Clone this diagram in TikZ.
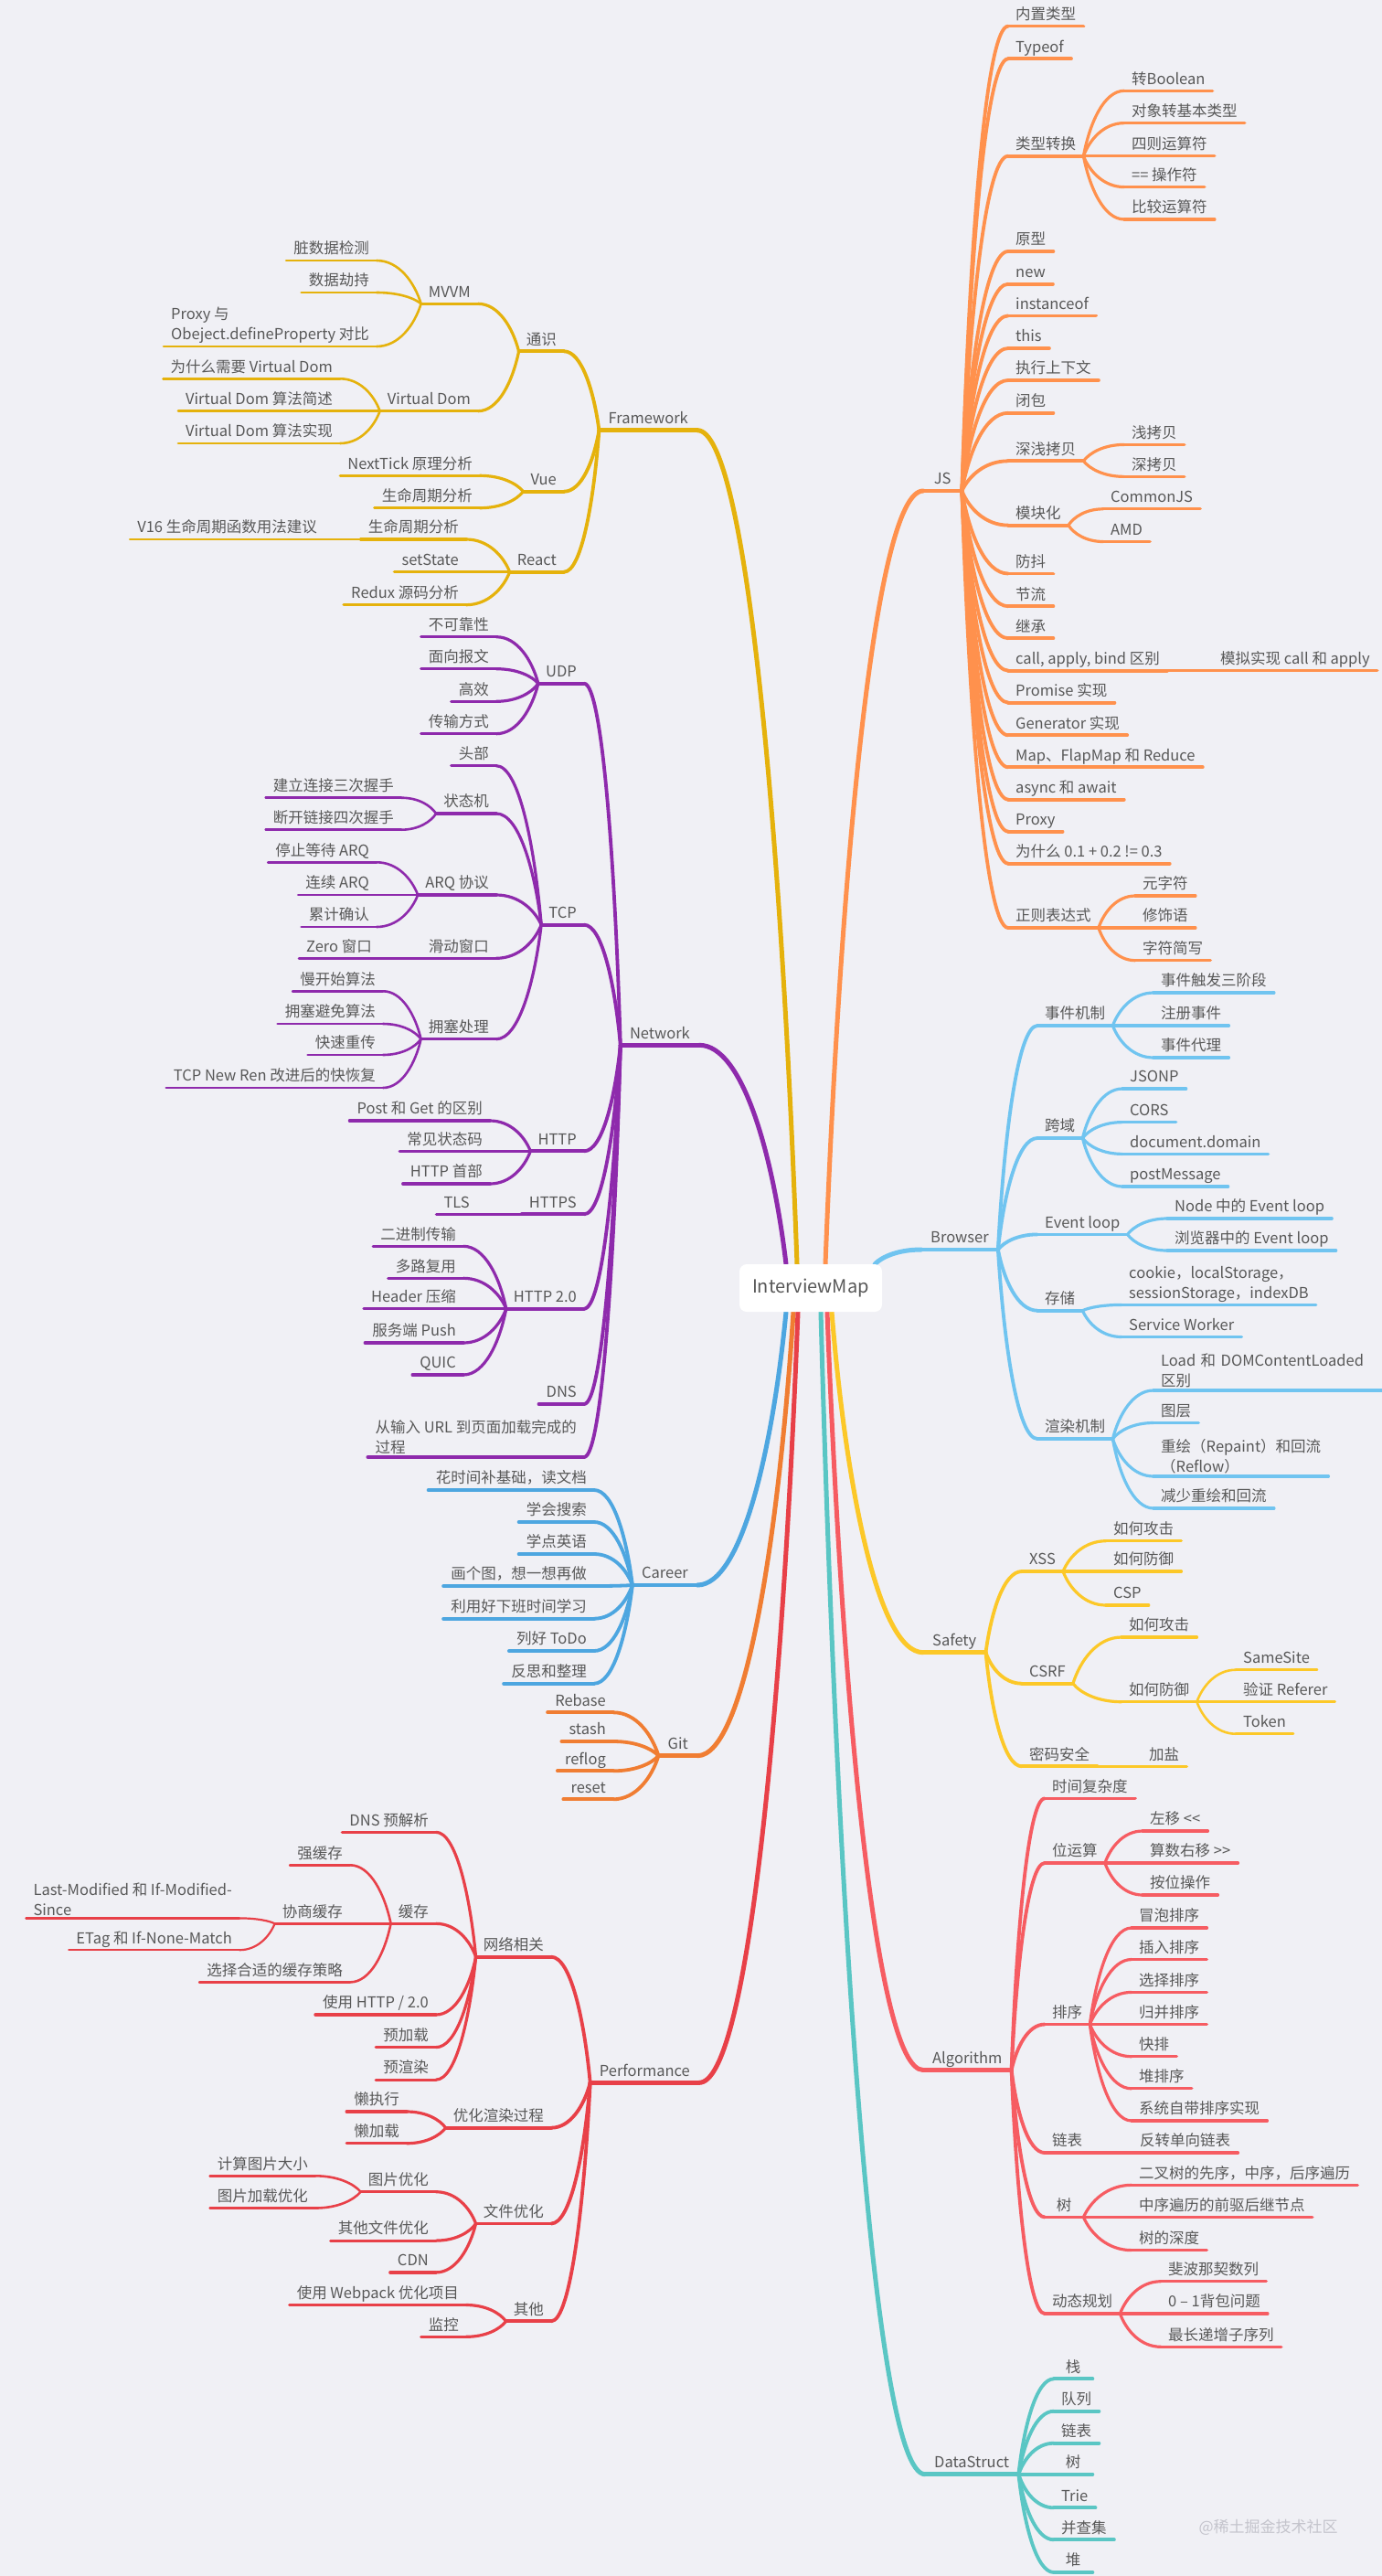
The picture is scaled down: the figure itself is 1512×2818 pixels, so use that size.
\documentclass[tikz,border=0pt]{standalone}
\usepackage{fontspec}
\usepackage{tikz}
\usetikzlibrary{
  calc,
  backgrounds
}
\newfontfamily\cjk{Noto Sans CJK SC}

\definecolor{bgcol}{RGB}{240,240,245}
\definecolor{txtcol}{RGB}{88,88,88}
\definecolor{markcol}{RGB}{196,196,204}
\definecolor{fwcol}{RGB}{229,178,12}
\definecolor{jscol}{RGB}{255,145,77}
\definecolor{netcol}{RGB}{142,42,172}
\definecolor{brcol}{RGB}{112,196,240}
\definecolor{carcol}{RGB}{77,166,224}
\definecolor{gitcol}{RGB}{240,125,50}
\definecolor{safecol}{RGB}{252,200,40}
\definecolor{perfcol}{RGB}{232,64,72}
\definecolor{algcol}{RGB}{246,92,98}
\definecolor{dscol}{RGB}{90,198,196}

\tikzset{
  mapnode/.style={
    font=\cjk\fontsize{16.5}{22}\selectfont, text=txtcol,
    inner xsep=8pt, inner ysep=3pt, minimum width=42pt,
    text height=12.5pt, text depth=4pt
  },
  uline/.style={
    mapnode,
    append after command={(\tikzlastnode.south west)
      edge[line width=#1, line cap=round] (\tikzlastnode.south east)}
  },
  topic/.style={uline=4.5pt, inner xsep=10pt},
  subtopic/.style={uline=3.8pt},
  leaf/.style={uline=3.2pt},
  subleaf/.style={uline=2.6pt},
  twig/.style={uline=2.2pt},
  toleft/.style={anchor=south east},
  toright/.style={anchor=south west},
  twoline/.style={align=left, text depth=},
  rootbox/.style={
    rectangle, rounded corners=8pt, fill=white, text=txtcol,
    font=\cjk\fontsize{20}{24}\selectfont,
    minimum width=156pt, minimum height=52pt
  },
  link/.style={line cap=round},
  w1/.style={line width=5pt},
  w2/.style={line width=3.8pt},
  w3/.style={line width=3.2pt},
  w4/.style={line width=2.6pt},
  w5/.style={line width=2.2pt}
}

% curved connector: leaves the parent steeply, lands flat on the child
\newcommand{\branch}[3][]{%
  \draw[link,#1] let \p1=(#2), \p2=(#3) in
    (\p1) .. controls ({\x1+0.15*(\x2-\x1)},{\y1+0.5*(\y2-\y1)})
             and ({\x1+0.5*(\x2-\x1)},\y2) .. (\p2);}
\newcommand{\branchR}[3][]{\branch[#1]{#2.south east}{#3.south west}}
\newcommand{\branchL}[3][]{\branch[#1]{#2.south west}{#3.south east}}

\begin{document}
\begin{tikzpicture}[x=1pt, y=-1pt]
\useasboundingbox (0,0) rectangle (1512,2818);

% ── Centre ───────────────────────────────────────────────────────────────────
\node[rootbox] (root) at (887,1409) {InterviewMap};
\coordinate (outNet)  at ([xshift=-27pt]root.north);
\coordinate (outFw)   at ([xshift=-15pt]root.north);
\coordinate (outJs)   at ([xshift=16pt]root.north);
\coordinate (outBro)  at ([xshift=-8pt]root.north east);
\coordinate (outCar)  at ([xshift=-27pt]root.south);
\coordinate (outGit)  at ([xshift=-19pt]root.south);
\coordinate (outPerf) at ([xshift=-14pt]root.south);
\coordinate (outDs)   at ([xshift=11pt]root.south);
\coordinate (outAlg)  at ([xshift=18pt]root.south);
\coordinate (outSafe) at ([xshift=23pt]root.south);

% ── Framework ────────────────────────────────────────────────────────────────
\begin{scope}[color=fwcol]
\node[topic, toleft] (fw) at (763,470.7) {Framework};
\node[subtopic, toleft] (fwA) at (617,384.3) {通识};
\node[subtopic, toleft] (fwB) at (617,537.7) {Vue};
\node[subtopic, toleft] (fwC) at (617,625.7) {React};
\node[leaf, toleft] (mvvm) at (523,332.3) {MVVM};
\node[leaf, toleft] (vdom) at (523,449.7) {Virtual Dom};
\node[subleaf, toleft] (mvvm1) at (412,285) {脏数据检测};
\node[subleaf, toleft] (mvvm2) at (412,320) {数据劫持};
\node[subleaf, toleft, twoline] (mvvm3) at (412,379) {Proxy 与\\Obeject.defineProperty 对比};
\node[subleaf, toleft] (vdom1) at (372,414.3) {为什么需要 Virtual Dom};
\node[subleaf, toleft] (vdom2) at (372,449.7) {Virtual Dom 算法简述};
\node[subleaf, toleft] (vdom3) at (372,485) {Virtual Dom 算法实现};
\node[leaf, toleft] (vue1) at (525,520.3) {NextTick 原理分析};
\node[leaf, toleft] (vue2) at (525,555.7) {生命周期分析};
\node[leaf, toleft] (rc1) at (510,590) {生命周期分析};
\node[subleaf, toleft] (rc1a) at (355,590) {V16 生命周期函数用法建议};
\node[leaf, toleft] (rc2) at (510,625.7) {setState};
\node[leaf, toleft] (rc3) at (510,661.7) {Redux 源码分析};

\branchL[w2]{fw}{fwA}
\branchL[w2]{fw}{fwB}
\branchL[w2]{fw}{fwC}
\branchL[w3]{fwA}{mvvm}
\branchL[w3]{fwA}{vdom}
\branchL[w4]{mvvm}{mvvm1}
\branchL[w4]{mvvm}{mvvm2}
\branchL[w4]{mvvm}{mvvm3}
\branchL[w4]{vdom}{vdom1}
\branchL[w4]{vdom}{vdom2}
\branchL[w4]{vdom}{vdom3}
\branchL[w3]{fwB}{vue1}
\branchL[w3]{fwB}{vue2}
\branchL[w3]{fwC}{rc1}
\branchL[w4]{rc1}{rc1a}
\branchL[w3]{fwC}{rc2}
\branchL[w3]{fwC}{rc3}
\end{scope}

% ── Network ──────────────────────────────────────────────────────────────────
\begin{scope}[color=netcol]
\node[topic, toleft] (net) at (765,1143.3) {Network};
\node[subtopic, toleft] (udp) at (639,747.7) {UDP};
\node[subtopic, toleft] (tcp) at (639,1011.7) {TCP};
\node[subtopic, toleft] (http) at (639,1259.3) {HTTP};
\node[subtopic, toleft] (https) at (639,1328.3) {HTTPS};
\node[subtopic, toleft] (h2) at (639,1431.7) {HTTP 2.0};
\node[subtopic, toleft] (dns) at (639,1536) {DNS};
\node[subtopic, toleft, twoline] (url) at (639,1594) {从输入 URL 到页面加载完成的\\过程};

\node[leaf, toleft] (udp1) at (543,696.7) {不可靠性};
\node[leaf, toleft] (udp2) at (543,731.7) {面向报文};
\node[leaf, toleft] (udp3) at (543,767.3) {高效};
\node[leaf, toleft] (udp4) at (543,802.7) {传输方式};

\node[leaf, toleft] (tcp1) at (543,837.7) {头部};
\node[leaf, toleft] (tcp2) at (543,890) {状态机};
\node[leaf, toleft] (tcp3) at (543,979) {ARQ 协议};
\node[leaf, toleft] (tcp4) at (543,1048.3) {滑动窗口};
\node[leaf, toleft] (tcp5) at (543,1136.7) {拥塞处理};
\node[subleaf, toleft] (tcp2a) at (439,872.7) {建立连接三次握手};
\node[subleaf, toleft] (tcp2b) at (439,907.7) {断开链接四次握手};
\node[subleaf, toleft] (tcp3a) at (412,943.3) {停止等待 ARQ};
\node[subleaf, toleft] (tcp3b) at (412,979) {连续 ARQ};
\node[subleaf, toleft] (tcp3c) at (412,1014) {累计确认};
\node[subleaf, toleft] (tcp4a) at (415,1048.3) {Zero 窗口};
\node[subleaf, toleft] (tcp5a) at (419,1084.3) {慢开始算法};
\node[subleaf, toleft] (tcp5b) at (419,1120) {拥塞避免算法};
\node[subleaf, toleft] (tcp5c) at (419,1154) {快速重传};
\node[subleaf, toleft] (tcp5d) at (419,1190) {TCP New Ren 改进后的快恢复};

\node[leaf, toleft] (http1) at (536,1226) {Post 和 Get 的区别};
\node[leaf, toleft] (http2) at (536,1259.3) {常见状态码};
\node[leaf, toleft] (http3) at (536,1295) {HTTP 首部};
\node[leaf, toleft] (https1) at (522,1328.3) {TLS};
\node[leaf, toleft] (h21) at (507,1363.3) {二进制传输};
\node[leaf, toleft] (h22) at (507,1398.3) {多路复用};
\node[leaf, toleft] (h23) at (507,1431.7) {Header 压缩};
\node[leaf, toleft] (h24) at (507,1469) {服务端 Push};
\node[leaf, toleft] (h25) at (507,1504) {QUIC};

\branchL[w2]{net}{udp}
\branchL[w2]{net}{tcp}
\branchL[w2]{net}{http}
\branchL[w2]{net}{https}
\branchL[w2]{net}{h2}
\branchL[w2]{net}{dns}
\branchL[w2]{net}{url}
\branchL[w3]{udp}{udp1}
\branchL[w3]{udp}{udp2}
\branchL[w3]{udp}{udp3}
\branchL[w3]{udp}{udp4}
\branchL[w3]{tcp}{tcp1}
\branchL[w3]{tcp}{tcp2}
\branchL[w3]{tcp}{tcp3}
\branchL[w3]{tcp}{tcp4}
\branchL[w3]{tcp}{tcp5}
\branchL[w4]{tcp2}{tcp2a}
\branchL[w4]{tcp2}{tcp2b}
\branchL[w4]{tcp3}{tcp3a}
\branchL[w4]{tcp3}{tcp3b}
\branchL[w4]{tcp3}{tcp3c}
\branchL[w4]{tcp4}{tcp4a}
\branchL[w4]{tcp5}{tcp5a}
\branchL[w4]{tcp5}{tcp5b}
\branchL[w4]{tcp5}{tcp5c}
\branchL[w4]{tcp5}{tcp5d}
\branchL[w3]{http}{http1}
\branchL[w3]{http}{http2}
\branchL[w3]{http}{http3}
\branchL[w3]{https}{https1}
\branchL[w3]{h2}{h21}
\branchL[w3]{h2}{h22}
\branchL[w3]{h2}{h23}
\branchL[w3]{h2}{h24}
\branchL[w3]{h2}{h25}
\end{scope}

% ── Career ───────────────────────────────────────────────────────────────────
\begin{scope}[color=carcol]
\node[topic, toleft] (car) at (763,1734) {Career};
\node[subtopic, toleft] (car1) at (650,1630) {花时间补基础，读文档};
\node[subtopic, toleft] (car2) at (650,1665) {学会搜索};
\node[subtopic, toleft] (car3) at (650,1700) {学点英语};
\node[subtopic, toleft] (car4) at (650,1735) {画个图，想一想再做};
\node[subtopic, toleft] (car5) at (650,1770.7) {利用好下班时间学习};
\node[subtopic, toleft] (car6) at (650,1806) {列好 ToDo};
\node[subtopic, toleft] (car7) at (650,1841.7) {反思和整理};

\branchL[w2]{car}{car1}
\branchL[w2]{car}{car2}
\branchL[w2]{car}{car3}
\branchL[w2]{car}{car4}
\branchL[w2]{car}{car5}
\branchL[w2]{car}{car6}
\branchL[w2]{car}{car7}
\end{scope}

% ── Git ──────────────────────────────────────────────────────────────────────
\begin{scope}[color=gitcol]
\node[topic, toleft] (git) at (763,1920.7) {Git};
\node[subtopic, toleft] (git1) at (671,1873.3) {Rebase};
\node[subtopic, toleft] (git2) at (671,1905) {stash};
\node[subtopic, toleft] (git3) at (671,1937.3) {reflog};
\node[subtopic, toleft] (git4) at (671,1968.3) {reset};

\branchL[w2]{git}{git1}
\branchL[w2]{git}{git2}
\branchL[w2]{git}{git3}
\branchL[w2]{git}{git4}
\end{scope}

% ── Performance ──────────────────────────────────────────────────────────────
\begin{scope}[color=perfcol]
\node[topic, toleft] (perf) at (765,2278.3) {Performance};
\node[subtopic, toleft] (pf1) at (603,2140.7) {网络相关};
\node[subtopic, toleft] (pf2) at (603,2327.7) {优化渲染过程};
\node[subtopic, toleft] (pf3) at (603,2432.5) {文件优化};
\node[subtopic, toleft] (pf4) at (603,2539.3) {其他};

\node[leaf, toleft] (pf1a) at (477,2004.3) {DNS 预解析};
\node[leaf, toleft] (pf1b) at (477,2104.3) {缓存};
\node[leaf, toleft] (pf1c) at (477,2204) {使用 HTTP / 2.0};
\node[leaf, toleft] (pf1d) at (477,2239.6) {预加载};
\node[leaf, toleft] (pf1e) at (477,2275.1) {预渲染};
\node[subleaf, toleft] (pf1b1) at (383,2040.3) {强缓存};
\node[subleaf, toleft] (pf1b2) at (383,2104.3) {协商缓存};
\node[subleaf, toleft] (pf1b3) at (383,2168.4) {选择合适的缓存策略};
\node[twig, toleft, twoline] (pf1b2a) at (262,2098.4) {Last-Modified 和 If-Modified-\\Since};
\node[twig, toleft] (pf1b2b) at (262,2133.2) {ETag 和 If-None-Match};

\node[leaf, toleft] (pf2a) at (445,2310) {懒执行};
\node[leaf, toleft] (pf2b) at (445,2344.7) {懒加载};

\node[leaf, toleft] (pf3a) at (477,2397.7) {图片优化};
\node[leaf, toleft] (pf3b) at (477,2451.1) {其他文件优化};
\node[leaf, toleft] (pf3c) at (477,2485.9) {CDN};
\node[subleaf, toleft] (pf3a1) at (345,2380.3) {计算图片大小};
\node[subleaf, toleft] (pf3a2) at (345,2415.5) {图片加载优化};

\node[leaf, toleft] (pf4a) at (510,2521.5) {使用 Webpack 优化项目};
\node[leaf, toleft] (pf4b) at (510,2556.3) {监控};

\branchL[w2]{perf}{pf1}
\branchL[w2]{perf}{pf2}
\branchL[w2]{perf}{pf3}
\branchL[w2]{perf}{pf4}
\branchL[w3]{pf1}{pf1a}
\branchL[w3]{pf1}{pf1b}
\branchL[w3]{pf1}{pf1c}
\branchL[w3]{pf1}{pf1d}
\branchL[w3]{pf1}{pf1e}
\branchL[w4]{pf1b}{pf1b1}
\branchL[w4]{pf1b}{pf1b2}
\branchL[w4]{pf1b}{pf1b3}
\branchL[w5]{pf1b2}{pf1b2a}
\branchL[w5]{pf1b2}{pf1b2b}
\branchL[w3]{pf2}{pf2a}
\branchL[w3]{pf2}{pf2b}
\branchL[w3]{pf3}{pf3a}
\branchL[w3]{pf3}{pf3b}
\branchL[w3]{pf3}{pf3c}
\branchL[w4]{pf3a}{pf3a1}
\branchL[w4]{pf3a}{pf3a2}
\branchL[w3]{pf4}{pf4a}
\branchL[w3]{pf4}{pf4b}
\end{scope}

% ── JS ───────────────────────────────────────────────────────────────────────
\begin{scope}[color=jscol]
\node[topic, toright] (js) at (1010,537) {JS};
\node[subtopic, toright] (js1) at (1103,28.6) {内置类型};
\node[subtopic, toright] (js2) at (1103,64.3) {Typeof};
\node[subtopic, toright] (js3) at (1103,170.7) {类型转换};
\node[subtopic, toright] (js4) at (1103,275) {原型};
\node[subtopic, toright] (js5) at (1103,310.7) {new};
\node[subtopic, toright] (js6) at (1103,345.4) {instanceof};
\node[subtopic, toright] (js7) at (1103,381) {this};
\node[subtopic, toright] (js8) at (1103,416) {执行上下文};
\node[subtopic, toright] (js9) at (1103,451.8) {闭包};
\node[subtopic, toright] (js10) at (1103,504.3) {深浅拷贝};
\node[subtopic, toright] (js11) at (1103,574.6) {模块化};
\node[subtopic, toright] (js12) at (1103,627.5) {防抖};
\node[subtopic, toright] (js13) at (1103,663.2) {节流};
\node[subtopic, toright] (js14) at (1103,698.2) {继承};
\node[subtopic, toright] (js15) at (1103,733.6) {call, apply, bind 区别};
\node[subtopic, toright] (js16) at (1103,768.6) {Promise 实现};
\node[subtopic, toright] (js17) at (1103,804.3) {Generator 实现};
\node[subtopic, toright] (js18) at (1103,839.3) {Map、FlapMap 和 Reduce};
\node[subtopic, toright] (js19) at (1103,874.6) {async 和 await};
\node[subtopic, toright] (js20) at (1103,909.6) {Proxy};
\node[subtopic, toright] (js21) at (1103,944.6) {为什么 0.1 + 0.2 != 0.3};
\node[subtopic, toright] (js22) at (1103,1015) {正则表达式};

\node[leaf, toright] (js3a) at (1230,99.3) {转Boolean};
\node[leaf, toright] (js3b) at (1230,134.6) {对象转基本类型};
\node[leaf, toright] (js3c) at (1230,170.7) {四则运算符};
\node[leaf, toright] (js3d) at (1230,204.6) {== 操作符};
\node[leaf, toright] (js3e) at (1230,240) {比较运算符};
\node[leaf, toright] (js10a) at (1230,486.4) {浅拷贝};
\node[leaf, toright] (js10b) at (1230,521.4) {深拷贝};
\node[leaf, toright] (js11a) at (1207,556.8) {CommonJS};
\node[leaf, toright] (js11b) at (1207,592.5) {AMD};
\node[leaf, toright] (js15a) at (1327,733.6) {模拟实现 call 和 apply};
\node[leaf, toright] (js22a) at (1242,980) {元字符};
\node[leaf, toright] (js22b) at (1242,1015) {修饰语};
\node[leaf, toright] (js22c) at (1242,1050.7) {字符简写};

\branchR[w2]{js}{js1}
\branchR[w2]{js}{js2}
\branchR[w2]{js}{js3}
\branchR[w2]{js}{js4}
\branchR[w2]{js}{js5}
\branchR[w2]{js}{js6}
\branchR[w2]{js}{js7}
\branchR[w2]{js}{js8}
\branchR[w2]{js}{js9}
\branchR[w2]{js}{js10}
\branchR[w2]{js}{js11}
\branchR[w2]{js}{js12}
\branchR[w2]{js}{js13}
\branchR[w2]{js}{js14}
\branchR[w2]{js}{js15}
\branchR[w2]{js}{js16}
\branchR[w2]{js}{js17}
\branchR[w2]{js}{js18}
\branchR[w2]{js}{js19}
\branchR[w2]{js}{js20}
\branchR[w2]{js}{js21}
\branchR[w2]{js}{js22}
\branchR[w3]{js3}{js3a}
\branchR[w3]{js3}{js3b}
\branchR[w3]{js3}{js3c}
\branchR[w3]{js3}{js3d}
\branchR[w3]{js3}{js3e}
\branchR[w3]{js10}{js10a}
\branchR[w3]{js10}{js10b}
\branchR[w3]{js11}{js11a}
\branchR[w3]{js11}{js11b}
\branchR[w3]{js15}{js15a}
\branchR[w3]{js22}{js22a}
\branchR[w3]{js22}{js22b}
\branchR[w3]{js22}{js22c}
\end{scope}

% ── Browser ──────────────────────────────────────────────────────────────────
\begin{scope}[color=brcol]
\node[topic, toright] (bro) at (1008,1367) {Browser};
\node[subtopic, toright] (br1) at (1135,1122) {事件机制};
\node[subtopic, toright] (br2) at (1135,1245) {跨域};
\node[subtopic, toright] (br3) at (1135,1350.4) {Event loop};
\node[subtopic, toright] (br4) at (1135,1433.7) {存储};
\node[subtopic, toright] (br5) at (1135,1574) {渲染机制};

\node[leaf, toright] (br1a) at (1262,1086) {事件触发三阶段};
\node[leaf, toright] (br1b) at (1262,1122) {注册事件};
\node[leaf, toright] (br1c) at (1262,1157) {事件代理};
\node[leaf, toright] (br2a) at (1228,1191) {JSONP};
\node[leaf, toright] (br2b) at (1228,1227.6) {CORS};
\node[leaf, toright] (br2c) at (1228,1262.4) {document.domain};
\node[leaf, toright] (br2d) at (1228,1298) {postMessage};
\node[leaf, toright] (br3a) at (1277,1333) {Node 中的 Event loop};
\node[leaf, toright] (br3b) at (1277,1368) {浏览器中的 Event loop};
\node[leaf, toright, twoline] (br4a) at (1227,1427.4) {cookie，localStorage，\\sessionStorage，indexDB};
\node[leaf, toright] (br4b) at (1227,1462.5) {Service Worker};
\node[leaf, toright, twoline, text width=234pt] (br5a) at (1262,1521) {Load 和 DOMContentLoaded\\区别};
\node[leaf, toright] (br5b) at (1262,1556.5) {图层};
\node[leaf, toright, twoline] (br5c) at (1262,1615) {重绘（Repaint）和回流\\（Reflow）};
\node[leaf, toright] (br5d) at (1262,1650) {减少重绘和回流};

\branchR[w2]{bro}{br1}
\branchR[w2]{bro}{br2}
\branchR[w2]{bro}{br3}
\branchR[w2]{bro}{br4}
\branchR[w2]{bro}{br5}
\branchR[w3]{br1}{br1a}
\branchR[w3]{br1}{br1b}
\branchR[w3]{br1}{br1c}
\branchR[w3]{br2}{br2a}
\branchR[w3]{br2}{br2b}
\branchR[w3]{br2}{br2c}
\branchR[w3]{br2}{br2d}
\branchR[w3]{br3}{br3a}
\branchR[w3]{br3}{br3b}
\branchR[w3]{br4}{br4a}
\branchR[w3]{br4}{br4b}
\branchR[w3]{br5}{br5a}
\branchR[w3]{br5}{br5b}
\branchR[w3]{br5}{br5c}
\branchR[w3]{br5}{br5d}
\end{scope}

% ── Safety ───────────────────────────────────────────────────────────────────
\begin{scope}[color=safecol]
\node[topic, toright] (safe) at (1010,1807.7) {Safety};
\node[subtopic, toright] (sf1) at (1118,1719) {XSS};
\node[subtopic, toright] (sf2) at (1118,1841.7) {CSRF};
\node[subtopic, toright] (sf3) at (1118,1932.3) {密码安全};
\node[leaf, toright] (sf1a) at (1210,1685.7) {如何攻击};
\node[leaf, toright] (sf1b) at (1210,1719) {如何防御};
\node[leaf, toright] (sf1c) at (1210,1756) {CSP};
\node[leaf, toright] (sf2a) at (1227,1791) {如何攻击};
\node[leaf, toright] (sf2b) at (1227,1861.7) {如何防御};
\node[subleaf, toright] (sf2b1) at (1352,1826.7) {SameSite};
\node[subleaf, toright] (sf2b2) at (1352,1861.7) {验证 Referer};
\node[subleaf, toright] (sf2b3) at (1352,1896.7) {Token};
\node[leaf, toright] (sf3a) at (1249,1932.3) {加盐};

\branchR[w2]{safe}{sf1}
\branchR[w2]{safe}{sf2}
\branchR[w2]{safe}{sf3}
\branchR[w3]{sf1}{sf1a}
\branchR[w3]{sf1}{sf1b}
\branchR[w3]{sf1}{sf1c}
\branchR[w3]{sf2}{sf2a}
\branchR[w3]{sf2}{sf2b}
\branchR[w4]{sf2b}{sf2b1}
\branchR[w4]{sf2b}{sf2b2}
\branchR[w4]{sf2b}{sf2b3}
\branchR[w3]{sf3}{sf3a}
\end{scope}

% ── Algorithm ────────────────────────────────────────────────────────────────
\begin{scope}[color=algcol]
\node[topic, toright] (alg) at (1010,2264.5) {Algorithm};
\node[subtopic, toright] (al1) at (1143,1967.4) {时间复杂度};
\node[subtopic, toright] (al2) at (1143,2038) {位运算};
\node[subtopic, toright] (al3) at (1143,2214.5) {排序};
\node[subtopic, toright] (al4) at (1143,2355) {链表};
\node[subtopic, toright] (al5) at (1143,2425.4) {树};
\node[subtopic, toright] (al6) at (1143,2531) {动态规划};

\node[leaf, toright] (al2a) at (1250,2003) {左移 <\kern0pt<};
\node[leaf, toright] (al2b) at (1250,2038) {算数右移 >\kern0pt>};
\node[leaf, toright] (al2c) at (1250,2073) {按位操作};
\node[leaf, toright] (al3a) at (1238,2109) {冒泡排序};
\node[leaf, toright] (al3b) at (1238,2143.5) {插入排序};
\node[leaf, toright] (al3c) at (1238,2179.4) {选择排序};
\node[leaf, toright] (al3d) at (1238,2214.5) {归并排序};
\node[leaf, toright] (al3e) at (1238,2249.7) {快排};
\node[leaf, toright] (al3f) at (1238,2284.8) {堆排序};
\node[leaf, toright] (al3g) at (1238,2320) {系统自带排序实现};
\node[leaf, toright] (al4a) at (1239,2355) {反转单向链表};
\node[leaf, toright] (al5a) at (1238,2390.3) {二叉树的先序，中序，后序遍历};
\node[leaf, toright] (al5b) at (1238,2425.4) {中序遍历的前驱后继节点};
\node[leaf, toright] (al5c) at (1238,2461.6) {树的深度};
\node[leaf, toright] (al6a) at (1270,2495.7) {斐波那契数列};
\node[leaf, toright] (al6b) at (1270,2531) {0 – 1背包问题};
\node[leaf, toright] (al6c) at (1270,2567.3) {最长递增子序列};

\branchR[w2]{alg}{al1}
\branchR[w2]{alg}{al2}
\branchR[w2]{alg}{al3}
\branchR[w2]{alg}{al4}
\branchR[w2]{alg}{al5}
\branchR[w2]{alg}{al6}
\branchR[w3]{al2}{al2a}
\branchR[w3]{al2}{al2b}
\branchR[w3]{al2}{al2c}
\branchR[w3]{al3}{al3a}
\branchR[w3]{al3}{al3b}
\branchR[w3]{al3}{al3c}
\branchR[w3]{al3}{al3d}
\branchR[w3]{al3}{al3e}
\branchR[w3]{al3}{al3f}
\branchR[w3]{al3}{al3g}
\branchR[w3]{al4}{al4a}
\branchR[w3]{al5}{al5a}
\branchR[w3]{al5}{al5b}
\branchR[w3]{al5}{al5c}
\branchR[w3]{al6}{al6a}
\branchR[w3]{al6}{al6b}
\branchR[w3]{al6}{al6c}
\end{scope}

% ── DataStruct ───────────────────────────────────────────────────────────────
\begin{scope}[color=dscol]
\node[topic, toright] (ds) at (1012,2706.7) {DataStruct};
\node[subtopic, toright] (ds1) at (1153,2602.3) {栈};
\node[subtopic, toright] (ds2) at (1153,2637.7) {队列};
\node[subtopic, toright] (ds3) at (1153,2672.7) {链表};
\node[subtopic, toright] (ds4) at (1153,2706.7) {树};
\node[subtopic, toright] (ds5) at (1153,2743.3) {Trie};
\node[subtopic, toright] (ds6) at (1153,2778.3) {并查集};
\node[subtopic, toright] (ds7) at (1153,2814) {堆};

\branchR[w2]{ds}{ds1}
\branchR[w2]{ds}{ds2}
\branchR[w2]{ds}{ds3}
\branchR[w2]{ds}{ds4}
\branchR[w2]{ds}{ds5}
\branchR[w2]{ds}{ds6}
\branchR[w2]{ds}{ds7}
\end{scope}

% watermark
\node[font=\cjk\fontsize{17}{20}\selectfont, text=markcol, anchor=base west]
  (mark) at (1308,2770) {@稀土掘金技术社区};

% ── Main branches, behind the centre box ─────────────────────────────────────
\begin{scope}[on background layer]
  \fill[bgcol] (0,0) rectangle (1512,2818);
  \branch[w1, fwcol]{outFw}{fw.south east}
  \branch[w1, netcol]{outNet}{net.south east}
  \branch[w1, jscol]{outJs}{js.south west}
  \branch[w1, brcol]{outBro}{bro.south west}
  \branch[w1, carcol]{outCar}{car.south east}
  \branch[w1, gitcol]{outGit}{git.south east}
  \branch[w1, perfcol]{outPerf}{perf.south east}
  \branch[w1, dscol]{outDs}{ds.south west}
  \branch[w1, algcol]{outAlg}{alg.south west}
  \branch[w1, safecol]{outSafe}{safe.south west}
\end{scope}

\end{tikzpicture}
\end{document}
